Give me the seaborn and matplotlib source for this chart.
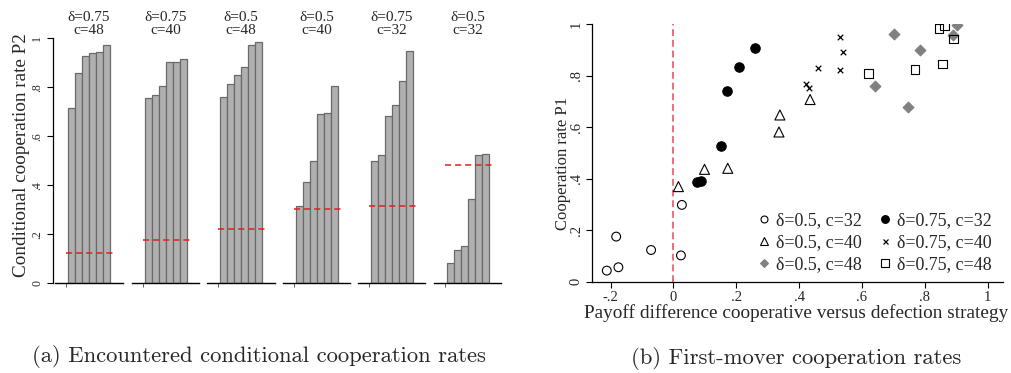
import numpy as np
import pandas as pd
import matplotlib
matplotlib.use("Agg")
import matplotlib.pyplot as plt
from matplotlib.lines import Line2D
import seaborn as sns

# ---------------- data ----------------
# panel (a): encountered conditional cooperation rates
panel_delta = ["0.75", "0.75", "0.5", "0.5", "0.75", "0.5"]
panel_c = ["48", "40", "48", "40", "32", "32"]
rates_p1 = [0.714, 0.857, 0.929, 0.941, 0.944, 0.973]
rates_p2 = [0.755, 0.769, 0.807, 0.905, 0.905, 0.916]
rates_p3 = [0.762, 0.814, 0.852, 0.884, 0.973, 0.984]
rates_p4 = [0.317, 0.415, 0.501, 0.690, 0.694, 0.807]
rates_p5 = [0.501, 0.524, 0.682, 0.729, 0.824, 0.950]
rates_p6 = [0.082, 0.136, 0.154, 0.344, 0.522, 0.527]
benchmark = [0.122, 0.178, 0.220, 0.302, 0.317, 0.483]
left_yticks = [0, 0.2, 0.4, 0.6, 0.8, 1.0]
left_yticklabels = ["0", ".2", ".4", ".6", ".8", "1"]

# panel (b): first-mover cooperation rates
d05_c32_x = [-0.212, -0.175, -0.182, -0.071, 0.027, 0.024]
d05_c32_y = [0.043, 0.056, 0.175, 0.123, 0.298, 0.102]
d075_c32_x = [0.076, 0.088, 0.152, 0.171, 0.209, 0.261]
d075_c32_y = [0.388, 0.392, 0.527, 0.741, 0.834, 0.907]
d05_c40_x = [0.016, 0.099, 0.173, 0.339, 0.336, 0.435]
d05_c40_y = [0.369, 0.436, 0.440, 0.647, 0.581, 0.707]
d075_c40_x = [0.422, 0.433, 0.459, 0.531, 0.539, 0.530]
d075_c40_y = [0.767, 0.753, 0.828, 0.951, 0.893, 0.821]
d05_c48_x = [0.701, 0.785, 0.641, 0.746, 0.903, 0.889]
d05_c48_y = [0.962, 0.898, 0.759, 0.679, 0.995, 0.959]
d075_c48_x = [0.621, 0.769, 0.857, 0.846, 0.862, 0.892]
d075_c48_y = [0.809, 0.823, 0.845, 0.982, 0.995, 0.941]
right_xticks = [-0.2, 0, 0.2, 0.4, 0.6, 0.8, 1.0]
right_xticklabels = ["-.2", "0", ".2", ".4", ".6", ".8", "1"]
right_yticks = [0, 0.2, 0.4, 0.6, 0.8, 1.0]
right_yticklabels = ["0", ".2", ".4", ".6", ".8", "1"]

# ---------------- style ----------------
sns.set_theme(style="white")
plt.rcParams["font.family"] = ["Liberation Serif", "DejaVu Serif"]
plt.rcParams["axes.linewidth"] = 0.8

W, H = 1012, 373
fig = plt.figure(figsize=(W / 100, H / 100), dpi=100)


def fx(px):
    return px / W


def fy(py):
    return 1 - py / H


# ---------------- panel (a) ----------------
all_rates = [rates_p1, rates_p2, rates_p3, rates_p4, rates_p5, rates_p6]
panel_left_px = [55, 132, 207, 283, 358, 434]
panel_w_px = 67.5
top_px, bot_px = 38.3, 283.3

bar_fill = "#b0b0b0"
bar_edge = "#6a6a6a"

for k, vals in enumerate(all_rates):
    ax = fig.add_axes([fx(panel_left_px[k]), fy(bot_px),
                       panel_w_px / W, (bot_px - top_px) / H])
    df = pd.DataFrame({"pos": np.arange(len(vals)), "rate": vals})
    sns.barplot(data=df, x="pos", y="rate", ax=ax, color=bar_fill,
                saturation=1, width=1, edgecolor=bar_edge, linewidth=0.9,
                errorbar=None)
    ax.hlines(benchmark[k], -0.83, 5.97, colors="#e02020",
              linestyles=(0, (4.0, 2.6)), linewidth=1.1, zorder=5)
    ax.set_xlim(-2.36, 7.36)
    ax.set_ylim(0, 1)
    ax.set_xlabel("")
    ax.set_ylabel("")
    for s in ["top", "right", "left"]:
        ax.spines[s].set_visible(False)
    ax.spines["bottom"].set_color("black")
    ax.spines["bottom"].set_linewidth(1.0)
    ax.set_xticks([-0.83])
    ax.set_xticklabels([""])
    ax.tick_params(axis="x", direction="out", length=3, width=0.6,
                   color="#444444", bottom=True)
    ax.text(2.5, 1.005, "δ=" + panel_delta[k] + "\nc=" + panel_c[k],
            ha="center", va="bottom", fontsize=11, linespacing=1.05,
            transform=ax.get_xaxis_transform())
    if k == 0:
        ax.spines["left"].set_visible(True)
        ax.spines["left"].set_color("black")
        ax.spines["left"].set_linewidth(0.9)
        ax.spines["left"].set_position(("outward", 1.5))
        ax.set_yticks(left_yticks)
        ax.set_yticklabels(left_yticklabels, rotation=90, va="center",
                           fontsize=8.5)
        ax.tick_params(axis="y", direction="out", length=4.5, width=0.8,
                       color="black", left=True, pad=2.5)
    else:
        ax.set_yticks([])

fig.text(fx(21.7), fy(155), "Conditional cooperation rate P2", rotation=90,
         ha="center", va="center", fontsize=13.8)

# ---------------- panel (b) ----------------
axb_left, axb_right = 591.7, 1003.0
axb_top, axb_bot = 24.0, 281.7
axb = fig.add_axes([fx(axb_left), fy(axb_bot), (axb_right - axb_left) / W,
                    (axb_bot - axb_top) / H])
axb.set_xlim(-0.26, 1.049)
axb.set_ylim(0, 1)

axb.axvline(0, color="#e8474f", linestyle=(0, (4.5, 2.5)), linewidth=1.1,
            zorder=1)

groups = [
    (d05_c32_x, d05_c32_y, "o", 40, "none", "black", 0.8),
    (d075_c32_x, d075_c32_y, "o", 46, "black", "black", 0.8),
    (d05_c40_x, d05_c40_y, "^", 52, "none", "black", 0.8),
    (d075_c40_x, d075_c40_y, "x", 16, "black", "black", 0.9),
    (d05_c48_x, d05_c48_y, "D", 30, "#808080", "#808080", 0.8),
    (d075_c48_x, d075_c48_y, "s", 38, "none", "black", 0.8),
]
for gx, gy, mk, sz, fc, ec, lw in groups:
    sns.scatterplot(x=gx, y=gy, marker=mk, s=sz, ax=axb, color=ec,
                    facecolors=fc, edgecolor=ec, linewidth=lw, zorder=3,
                    legend=False)

for s in ["top", "right"]:
    axb.spines[s].set_visible(False)
for s in ["left", "bottom"]:
    axb.spines[s].set_color("black")
    axb.spines[s].set_linewidth(0.9)
axb.set_xticks(right_xticks)
axb.set_xticklabels(right_xticklabels, fontsize=10.5)
axb.set_yticks(right_yticks)
axb.set_yticklabels(right_yticklabels, rotation=90, va="center",
                    fontsize=10.5)
axb.tick_params(axis="both", direction="out", length=4.5, width=0.8,
                color="black", left=True, bottom=True, pad=2)

fig.text(fx(796), fy(312.7),
         "Payoff difference cooperative versus defection strategy",
         ha="center", va="center", fontsize=13.9)
fig.text(fx(563), fy(163), "Cooperation rate P1", rotation=90,
         ha="center", va="center", fontsize=12)

handles = [
    Line2D([], [], ls="none", marker="o", ms=5.0, mfc="none", mec="black",
           mew=0.8, label="δ=0.5, c=32"),
    Line2D([], [], ls="none", marker="^", ms=5.6, mfc="none", mec="black",
           mew=0.8, label="δ=0.5, c=40"),
    Line2D([], [], ls="none", marker="D", ms=4.4, mfc="#808080",
           mec="#808080", mew=0.8, label="δ=0.5, c=48"),
    Line2D([], [], ls="none", marker="o", ms=5.4, mfc="black", mec="black",
           label="δ=0.75, c=32"),
    Line2D([], [], ls="none", marker="x", ms=3.6, mec="black", mew=0.9,
           label="δ=0.75, c=40"),
    Line2D([], [], ls="none", marker="s", ms=5.6, mfc="none", mec="black",
           mew=0.8, label="δ=0.75, c=48"),
]
axb.legend(handles=handles, ncol=2, frameon=False, fontsize=13,
           loc="center", bbox_to_anchor=(fx(875), fy(243)),
           bbox_transform=fig.transFigure, handlelength=0.6,
           handletextpad=0.35, columnspacing=1.0, labelspacing=0.28,
           borderpad=0.2)

# ---------------- captions ----------------
fig.text(fx(259), fy(356), "(a) Encountered conditional cooperation rates",
         ha="center", va="center", fontsize=16.3, family="cmr10")
fig.text(fx(796), fy(358), "(b) First-mover cooperation rates",
         ha="center", va="center", fontsize=16.3, family="cmr10")

fig.savefig("out.png", dpi=100, facecolor="white")
